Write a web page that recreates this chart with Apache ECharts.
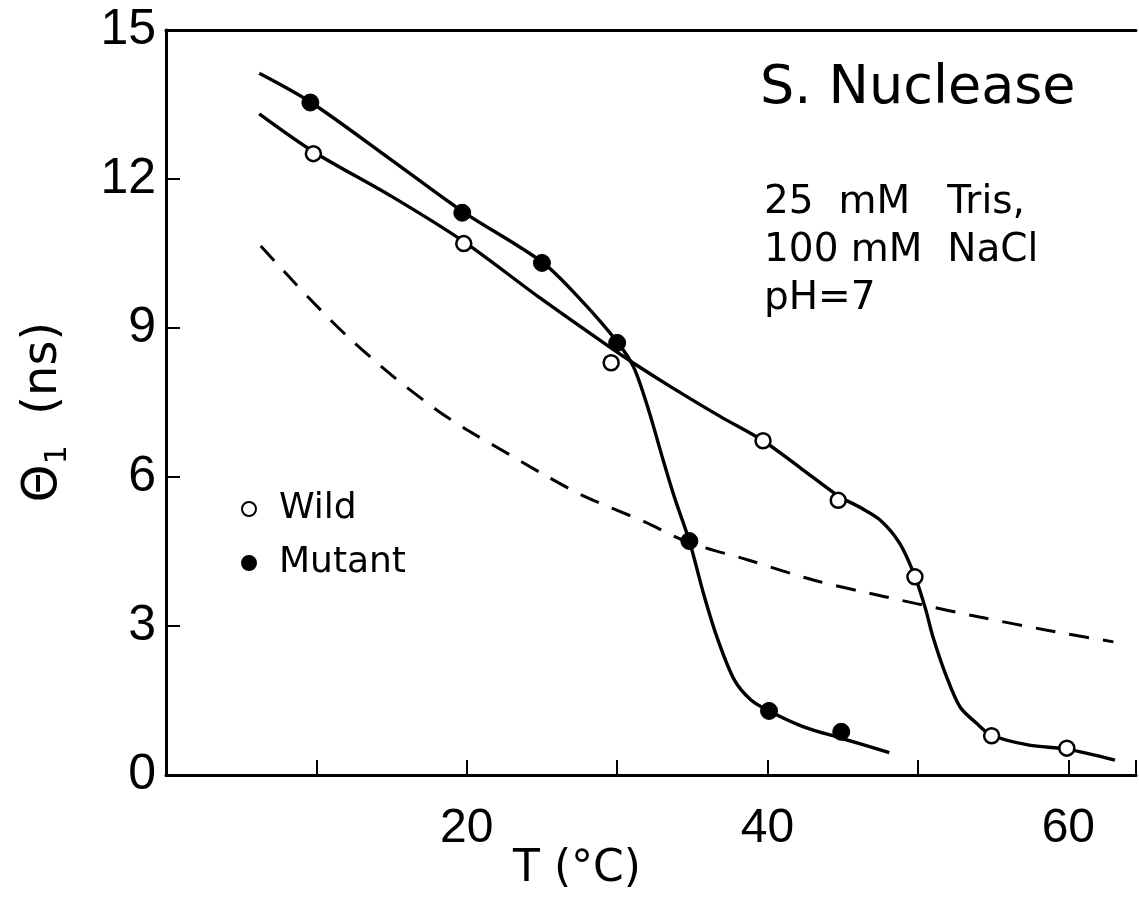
<!DOCTYPE html>
<html>
<head>
<meta charset="utf-8">
<script src="https://cdn.jsdelivr.net/npm/echarts@6/dist/echarts.min.js"></script>
<style>
html,body{margin:0;padding:0;background:#fff;}
#c{width:1139px;height:900px;}
</style>
</head>
<body>
<div id="c"></div>
<script>
// ---- data ----
var wildT      = [9.8, 19.8, 29.6, 39.7, 44.7, 49.8, 54.9, 59.9];
var wildTheta  = [12.51, 10.70, 8.30, 6.73, 5.53, 3.99, 0.79, 0.54];
var mutantT     = [9.6, 19.7, 25.0, 30.0, 34.8, 40.1, 44.9];
var mutantTheta = [13.54, 11.32, 10.31, 8.70, 4.71, 1.29, 0.87];

// fitted curves as drawn in the reference
var wildCurveT     = [6.2, 9.8, 15, 19.8, 24.8, 29.2, 31.2, 33.6, 36.9, 39.7, 42.2, 44.7, 46.2, 47.5, 48.8, 49.8, 50.5, 51.0, 51.9, 52.8, 53.9, 54.9, 57.4, 59.9, 63.1];
var wildCurveTheta = [13.31, 12.55, 11.65, 10.74, 9.62, 8.68, 8.27, 7.81, 7.21, 6.73, 6.18, 5.62, 5.38, 5.13, 4.66, 4.00, 3.35, 2.78, 1.98, 1.37, 1.04, 0.80, 0.60, 0.52, 0.30];
var mutantCurveT     = [6.2, 9.6, 15, 19.7, 25.0, 27.6, 30.0, 31.1, 32.1, 33.0, 33.8, 34.8, 35.8, 36.7, 37.8, 38.9, 40.1, 42.4, 44.9, 48.1];
var mutantCurveTheta = [14.13, 13.55, 12.38, 11.35, 10.33, 9.56, 8.72, 8.21, 7.34, 6.40, 5.60, 4.71, 3.59, 2.72, 1.91, 1.51, 1.29, 0.97, 0.74, 0.45];
var dashT     = [6.3, 8.4, 10, 12, 15, 18, 20, 22, 25.4, 27.9, 31.8, 34.7, 38.7, 43.1, 47.8, 49.9, 54.1, 58.5, 63.0];
var dashTheta = [10.65, 9.96, 9.45, 8.85, 8.05, 7.35, 6.95, 6.60, 6.00, 5.60, 5.10, 4.69, 4.33, 3.92, 3.59, 3.45, 3.18, 2.92, 2.68];

var yTicks = [0, 3, 6, 9, 12, 15];
var xLabelled = [20, 40, 60];

function pairs(xs, ys){ return xs.map(function(x,i){ return [x, ys[i]]; }); }

var FONT = 'DejaVu Sans';
var chart = echarts.init(document.getElementById('c'), null, {renderer:'canvas'});
chart.setOption({
  backgroundColor: '#fff',
  animation: false,
  grid: {left: 166, top: 30, width: 974, height: 745},
  xAxis: [{
    type: 'value', min: 0, max: 64.5, interval: 10,
    axisLine: {lineStyle: {color: '#000', width: 3}},
    axisTick: {inside: true, length: 15, lineStyle: {color: '#000', width: 2}},
    splitLine: {show: false},
    axisLabel: {
      margin: 30, color: '#000', fontFamily: 'Liberation Sans', fontSize: 48,
      formatter: function(v){ return xLabelled.indexOf(v) >= 0 ? String(v) : ''; }
    }
  }, {
    type: 'value', position: 'top', min: 0, max: 64.5,
    axisLine: {show: true, lineStyle: {color: '#000', width: 3}},
    axisTick: {show: false}, axisLabel: {show: false}, splitLine: {show: false}
  }],
  yAxis: {
    type: 'value', min: 0, max: 15, interval: 3,
    axisLine: {show: true, lineStyle: {color: '#000', width: 3}},
    axisTick: {inside: true, length: 14, lineStyle: {color: '#000', width: 2}},
    splitLine: {show: false},
    axisLabel: {
      margin: 10, color: '#000', fontFamily: 'Liberation Sans', fontSize: 50,
      formatter: function(v){ return yTicks.indexOf(v) >= 0 ? String(v) : ''; }
    }
  },
  legend: {
    left: 236, top: 486, orient: 'vertical', itemGap: 18,
    itemWidth: 14, itemHeight: 14, icon: 'circle',
    data: ['Wild', 'Mutant'],
    textStyle: {color: '#000', fontFamily: FONT, fontSize: 36, padding: [0, 0, 0, 18]}
  },
  series: [
    {name: 'dash', type: 'line', data: pairs(dashT, dashTheta), showSymbol: false, smooth: 0.3,
     lineStyle: {color: '#000', width: 3, type: [20, 14]}, silent: true},
    {name: 'wildCurve', type: 'line', data: pairs(wildCurveT, wildCurveTheta), showSymbol: false, smooth: 0.3,
     lineStyle: {color: '#000', width: 3.4}, silent: true},
    {name: 'mutantCurve', type: 'line', data: pairs(mutantCurveT, mutantCurveTheta), showSymbol: false, smooth: 0.3,
     lineStyle: {color: '#000', width: 3.4}, silent: true},
    {name: 'Wild', type: 'scatter', data: pairs(wildT, wildTheta), symbol: 'circle', symbolSize: 15,
     itemStyle: {color: '#fff', borderColor: '#000', borderWidth: 2.5, opacity: 1}, z: 5},
    {name: 'Mutant', type: 'scatter', data: pairs(mutantT, mutantTheta), symbol: 'circle', symbolSize: 17,
     itemStyle: {color: '#000', borderColor: '#000', borderWidth: 1, opacity: 1}, z: 5}
  ],
  graphic: [
    {type: 'text', left: 760, top: 62, style: {text: 'S. Nuclease', font: '54px "DejaVu Sans"', fill: '#000'}},
    {type: 'text', left: 764, top: 183, style: {text: '25  mM   Tris,', font: '39px "DejaVu Sans"', fill: '#000'}},
    {type: 'text', left: 764, top: 231, style: {text: '100 mM  NaCl', font: '39px "DejaVu Sans"', fill: '#000'}},
    {type: 'text', left: 764, top: 279, style: {text: 'pH=7', font: '39px "DejaVu Sans"', fill: '#000'}},
    {type: 'text', x: 577, y: 870, style: {text: 'T (°C)', font: '44px "DejaVu Sans"', fill: '#000', align: 'center', verticalAlign: 'middle'}},
    {type: 'text', x: 44, y: 412, rotation: Math.PI / 2,
     style: {text: '{a|Θ}{b|1}{a|  (ns)}', align: 'center', verticalAlign: 'middle', fill: '#000',
       rich: {a: {fontSize: 48, fontFamily: FONT, lineHeight: 58, verticalAlign: 'middle'},
              b: {fontSize: 30, fontFamily: FONT, lineHeight: 58, verticalAlign: 'bottom'}}}}
  ]
});
</script>
</body>
</html>
